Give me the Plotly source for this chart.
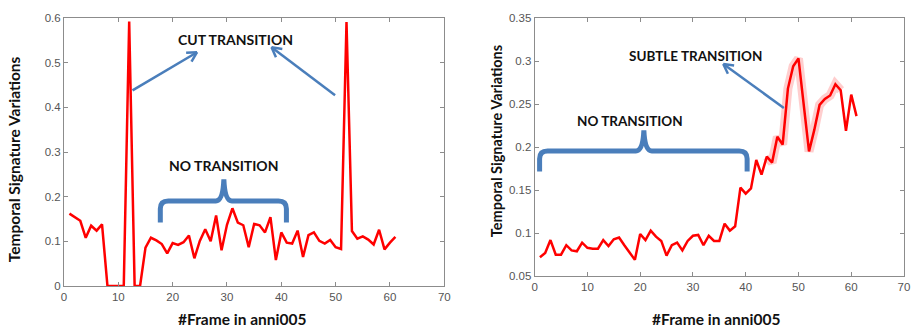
import math
import plotly.graph_objects as go

# ---------------- data ----------------
frames = list(range(1, 62))

cut_values = [0.162, 0.153, 0.146, 0.108, 0.135, 0.124, 0.138, 0.0, 0.0, 0.0,
              0.0, 0.592, 0.0, 0.0, 0.086, 0.108, 0.102, 0.094, 0.073, 0.096,
              0.092, 0.098, 0.113, 0.062, 0.101, 0.127, 0.100, 0.158, 0.080, 0.137,
              0.174, 0.142, 0.136, 0.087, 0.139, 0.136, 0.120, 0.154, 0.058, 0.120,
              0.097, 0.095, 0.124, 0.065, 0.114, 0.120, 0.101, 0.095, 0.103, 0.087,
              0.083, 0.591, 0.123, 0.106, 0.111, 0.104, 0.093, 0.126, 0.082, 0.097,
              0.110]

subtle_values = [0.072, 0.077, 0.092, 0.075, 0.075, 0.086, 0.080, 0.079, 0.089, 0.083,
                 0.082, 0.082, 0.092, 0.085, 0.093, 0.095, 0.086, 0.077, 0.069, 0.099,
                 0.092, 0.103, 0.096, 0.091, 0.074, 0.086, 0.089, 0.080, 0.091, 0.097,
                 0.098, 0.086, 0.097, 0.091, 0.091, 0.111, 0.103, 0.108, 0.153, 0.146,
                 0.152, 0.185, 0.168, 0.189, 0.182, 0.212, 0.203, 0.268, 0.294, 0.303,
                 0.249, 0.195, 0.220, 0.249, 0.256, 0.260, 0.273, 0.266, 0.219, 0.261,
                 0.236]

highlight_first_frame = 44
highlight_last_frame = 58

x_ticks = [0, 10, 20, 30, 40, 50, 60, 70]
left_y_ticks = [0, 0.1, 0.2, 0.3, 0.4, 0.5, 0.6]
left_y_labels = ["0", "0.1", "0.2", "0.3", "0.4", "0.5", "0.6"]
right_y_ticks = [0.05, 0.1, 0.15, 0.2, 0.25, 0.3, 0.35]
right_y_labels = ["0.05", "0.1", "0.15", "0.2", "0.25", "0.3", "0.35"]

y_title = "Temporal Signature Variations"
x_title = "#Frame in anni005"

# ---------------- layout helpers (screen pixel -> paper) ----------------
W_FIG, H_FIG = 922, 329
ML, MT = 64, 12
PW, PH = 846, 274
MR = W_FIG - ML - PW
MB = H_FIG - MT - PH


def pxx(x):
    return (x - ML) / PW


def pxy(y):
    return (MT + PH - y) / PH


def path_from_pixels(cmds):
    parts = []
    for c in cmds:
        op = c[0]
        pts = c[1:]
        coords = []
        for i in range(0, len(pts), 2):
            coords.append(f"{pxx(pts[i]):.5f},{pxy(pts[i+1]):.5f}")
        parts.append(op + " " + " ".join(coords))
    return " ".join(parts)


BLUE = "#4a7ebb"
RED = "#ff0000"
GRAY = "#8c8c8c"
TICKFONT = dict(family="Liberation Sans, Arial", size=11.5, color="#555555")

fig = go.Figure()

fig.add_trace(go.Scatter(x=frames, y=cut_values, mode="lines",
                         line=dict(color=RED, width=2.5),
                         xaxis="x", yaxis="y", showlegend=False))

hl_idx = [i for i, f in enumerate(frames) if highlight_first_frame <= f <= highlight_last_frame]
fig.add_trace(go.Scatter(x=[frames[i] for i in hl_idx], y=[subtle_values[i] for i in hl_idx],
                         mode="lines", line=dict(color="rgba(255,60,60,0.25)", width=9),
                         xaxis="x2", yaxis="y2", showlegend=False, hoverinfo="skip"))
fig.add_trace(go.Scatter(x=frames, y=subtle_values, mode="lines",
                         line=dict(color=RED, width=2.5),
                         xaxis="x2", yaxis="y2", showlegend=False))

axis_common = dict(showline=True, linecolor=GRAY, linewidth=1, mirror="ticks",
                   ticks="inside", ticklen=4, tickcolor=GRAY, showgrid=False,
                   zeroline=False, tickfont=TICKFONT, ticklabeloverflow="allow")

x1_dom = [pxx(64), pxx(447)]
x2_dom = [pxx(538), pxx(910)]
y2_dom = [pxy(276), 1.0]

fig.update_layout(
    width=W_FIG, height=H_FIG,
    margin=dict(l=ML, r=MR, t=MT, b=MB),
    paper_bgcolor="white", plot_bgcolor="white",
    xaxis=dict(domain=x1_dom, range=[0, 70], tickvals=x_ticks, anchor="y", **axis_common),
    yaxis=dict(domain=[0, 1], range=[0, 0.6], tickvals=left_y_ticks, ticktext=left_y_labels,
               anchor="x", **axis_common),
    xaxis2=dict(domain=x2_dom, range=[0, 70], tickvals=x_ticks, anchor="y2", **axis_common),
    yaxis2=dict(domain=y2_dom, range=[0.05, 0.35], tickvals=right_y_ticks, ticktext=right_y_labels,
                anchor="x2", **axis_common),
)

TITLEFONT = dict(family="Lato, Open Sans", size=15.5, color="#111111")
LABELFONT_L = dict(family="Lato, Open Sans", size=14, color="#111111")
LABELFONT_R = dict(family="Lato, Open Sans", size=13.5, color="#111111")

annotations = [
    dict(text=f"<b>{y_title}</b>", x=pxx(13), y=pxy(156), textangle=-90, font=TITLEFONT),
    dict(text=f"<b>{y_title}</b>", x=pxx(499), y=pxy(138), textangle=-90,
         font=dict(family="Lato, Open Sans", size=14.5, color="#111111")),
    dict(text=f"<b>{x_title}</b>", x=pxx(243), y=pxy(320), font=TITLEFONT),
    dict(text=f"<b>{x_title}</b>", x=pxx(721), y=pxy(320), font=TITLEFONT),
    dict(text="<b>CUT TRANSITION</b>", x=pxx(237), y=pxy(34), font=LABELFONT_L),
    dict(text="<b>NO TRANSITION</b>", x=pxx(225), y=pxy(163), font=LABELFONT_L),
    dict(text="<b>SUBTLE TRANSITION</b>", x=pxx(700), y=pxy(51), font=LABELFONT_R),
    dict(text="<b>NO TRANSITION</b>", x=pxx(634), y=pxy(117), font=LABELFONT_R),
]
for a in annotations:
    a.update(xref="paper", yref="paper", showarrow=False, xanchor="center", yanchor="middle")
fig.update_layout(annotations=annotations)

shapes = []

# braces
brace_left = [("M", 161, 221), ("L", 161, 207), ("Q", 161, 199, 169, 199), ("L", 217, 199),
              ("Q", 224, 199, 225, 177), ("Q", 226, 199, 233, 199), ("L", 280, 199),
              ("Q", 288, 199, 288, 207), ("L", 288, 221)]
brace_right = [("M", 543, 169), ("L", 543, 156), ("Q", 543, 148, 551, 148), ("L", 640, 148),
               ("Q", 647, 148, 648, 127), ("Q", 649, 148, 656, 148), ("L", 744, 148),
               ("Q", 752, 148, 752, 156), ("L", 752, 169)]
for b in (brace_left, brace_right):
    shapes.append(dict(type="path", xref="paper", yref="paper", path=path_from_pixels(b),
                       line=dict(color=BLUE, width=5)))

# arrows (tail -> tip, in screen pixels)
arrows = [((133, 86), (198, 47)), ((337, 91), (273, 42)), ((789, 104), (728, 59))]
for (tx, ty), (hx, hy) in arrows:
    shapes.append(dict(type="line", xref="paper", yref="paper",
                       x0=pxx(tx), y0=pxy(ty), x1=pxx(hx), y1=pxy(hy),
                       line=dict(color=BLUE, width=2.5)))
    ang = math.atan2(hy - ty, hx - tx)
    for s in (1, -1):
        a2 = ang + math.pi + s * 0.5
        ex, ey = hx + 11 * math.cos(a2), hy + 11 * math.sin(a2)
        shapes.append(dict(type="line", xref="paper", yref="paper",
                           x0=pxx(hx), y0=pxy(hy), x1=pxx(ex), y1=pxy(ey),
                           line=dict(color=BLUE, width=2.5)))

fig.update_layout(shapes=shapes)

fig.write_html("out.html",
               config={"displayModeBar": False},
               post_script="document.body.style.margin='0';document.body.style.overflow='hidden';")
